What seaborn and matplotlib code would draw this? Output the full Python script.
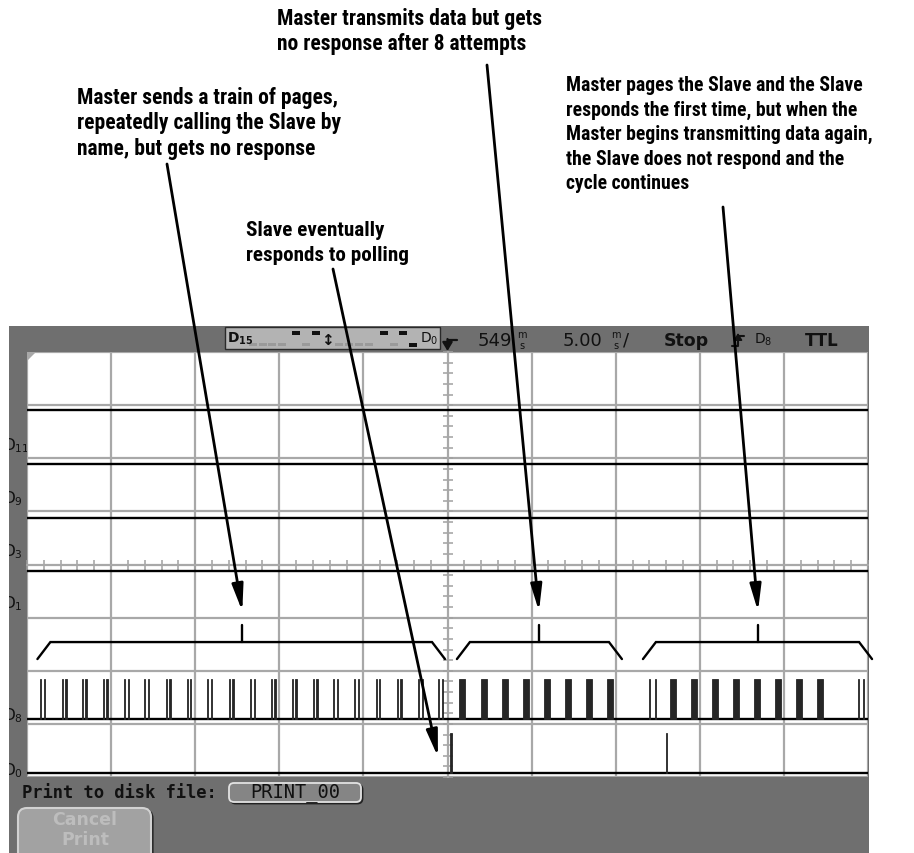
import matplotlib
matplotlib.use("Agg")
import numpy as np
import pandas as pd
import matplotlib.pyplot as plt
import seaborn as sns
from matplotlib import font_manager as fm
from matplotlib.patches import Rectangle, FancyBboxPatch, Polygon
from matplotlib.ticker import MultipleLocator

# --- data -----------------------------------------------------------------
# channel traces, level in screen divisions (screen is 8 div tall)
channel_names = ["D11", "D9", "D3", "D1", "D8", "D0"]
channel_levels = [6.9, 5.9, 4.88, 3.88, 1.1, 0.08]

# D8 activity, time in ms from trigger (5 ms/div)
d8_page_times = [-24.23, -24.01, -22.94, -22.72, -21.75, -21.53, -20.50, -20.28,
                 -19.23, -19.01, -18.03, -17.81, -16.75, -16.53, -15.51, -15.29,
                 -14.28, -14.06, -13.01, -12.79, -11.74, -11.52, -10.51, -10.29,
                 -9.26, -9.04, -8.01, -7.79, -6.79, -6.57, -5.55, -5.33,
                 -4.28, -4.06, -3.02, -2.80, -1.74, -1.52, -0.55, -0.33,
                 11.98, 12.34, 24.41, 24.70]
d8_data_times = [0.68, 1.99, 3.24, 4.49, 5.74, 6.99, 8.24, 9.48,
                 13.23, 14.48, 15.72, 16.97, 18.22, 19.47, 20.72, 21.97]
d8_page_width = 0.07
d8_data_width = 0.38
d8_high = 0.745

# D0 (slave) responses
d0_times = [0.15, 12.99]
d0_widths = [0.12, 0.06]
d0_high = 0.75

# brackets grouping the activity
group_start = [-24.38, 0.56, 11.62]
group_end = [-0.15, 10.37, 25.24]
group_mid = [-12.2, 5.44, 18.46]

# header channel states D15 .. D0
header_states = ["off", "off", "off", "off", "hi", "off", "hi", "trig",
                 "off", "off", "off", "off", "hi", "off", "hi", "lo"]

notes = [
    "Master sends a train of pages,\nrepeatedly calling the Slave by\nname, but gets no response",
    "Master transmits data but gets\nno response after 8 attempts",
    "Master pages the Slave and the Slave\nresponds the first time, but when the\n"
    "Master begins transmitting data again,\nthe Slave does not respond and the\ncycle continues",
    "Slave eventually\nresponds to polling",
]
note_pos = [(77, 87), (277, 8), (566, 76), (246, 221)]
note_scale = [1.0, 1.0, 0.92, 0.98]
note_spacing = [1.2, 1.2, 1.37, 1.39]
arrow_start = [(167, 165), (487, 66), (723, 208), (333, 270)]
arrow_tip = [(-12.2, 3.12), (5.44, 3.12), (18.46, 3.12), (-0.57, 0.38)]

# --- fonts ----------------------------------------------------------------
sns.set_style("white")
avail = {f.name for f in fm.fontManager.ttflist}
narrow = None
for n in ["Liberation Sans Narrow", "Roboto Condensed"]:
    if n in avail:
        narrow = n
        break
note_font = narrow if narrow else "DejaVu Sans"
note_size = 15.5 if narrow else 11.5
plt.rcParams["font.family"] = ["DejaVu Sans"]

W, H = 914, 854
fig = plt.figure(figsize=(W / 100, H / 100), dpi=100, facecolor="white")

# background layer (scope bezel), pixel coordinates
bg = fig.add_axes([0, 0, 1, 1], zorder=0)
bg.set_xlim(0, W)
bg.set_ylim(H, 0)
bg.axis("off")
frame = Rectangle((9, 327), 860, 527, fc="#6f6f6f", ec="none")
bg.add_patch(frame)

# scope screen
x0, x1, y0, y1 = 27, 868, 353, 778
ax = fig.add_axes([x0 / W, (H - y1) / H, (x1 - x0) / W, (y1 - y0) / H], zorder=1)
ax.set_facecolor("white")

trace_df = pd.DataFrame({
    "channel": np.repeat(channel_names, 2),
    "t": np.tile([-25.0, 25.0], len(channel_names)),
    "level": np.repeat(channel_levels, 2),
})
sns.lineplot(data=trace_df, x="t", y="level", units="channel", estimator=None,
             color="black", lw=1.7, ax=ax, legend=False, zorder=3)

d8_base = channel_levels[channel_names.index("D8")]
d0_base = channel_levels[channel_names.index("D0")]
n_page, n_data = len(d8_page_times), len(d8_data_times)
pulses = pd.DataFrame({
    "start": d8_page_times + d8_data_times + d0_times,
    "width": [d8_page_width] * n_page + [d8_data_width] * n_data + d0_widths,
    "base": [d8_base] * (n_page + n_data) + [d0_base] * len(d0_times),
    "height": [d8_high] * (n_page + n_data) + [d0_high] * len(d0_times),
})
ax.bar(pulses["start"], pulses["height"], width=pulses["width"], bottom=pulses["base"],
       align="edge", color="#262626", edgecolor="#262626", linewidth=0.6, zorder=3)

# brackets
for s, e, m in zip(group_start, group_end, group_mid):
    ax.plot([s, s + 0.77, e - 0.77, e], [2.22, 2.54, 2.54, 2.22], color="black",
            lw=1.7, clip_on=False, zorder=4, solid_joinstyle="miter")
    ax.plot([m, m], [2.54, 2.86], color="black", lw=1.7, zorder=4)

ax.set_xlim(-25, 25)
ax.set_ylim(0, 8)
ax.set_xlabel("")
ax.set_ylabel("")
ax.xaxis.set_major_locator(MultipleLocator(5))
ax.xaxis.set_minor_locator(MultipleLocator(1))
ax.yaxis.set_major_locator(MultipleLocator(1))
ax.yaxis.set_minor_locator(MultipleLocator(0.2))
ax.grid(True, which="major", color="#a8a8a8", lw=1.6)
ax.set_axisbelow(True)
for side in ["top", "right"]:
    ax.spines[side].set_visible(False)
ax.spines["left"].set_position(("data", 0))
ax.spines["bottom"].set_position(("data", 4))
for side in ["left", "bottom"]:
    ax.spines[side].set_color("#a8a8a8")
    ax.spines[side].set_linewidth(1.4)
ax.tick_params(which="both", direction="inout", length=7, width=1.1, color="#a0a0a0",
               left=True, bottom=True, labelleft=False, labelbottom=False)

# header bar
bg.add_patch(Rectangle((225, 328), 215, 22, fc="#b3b3b3", ec="#2a2a2a", lw=1.0))
bg.text(227, 339, r"$\mathregular{D_{15}}$", fontsize=10, fontweight="bold", va="center", color="#111")
bg.text(420, 339, r"$\mathregular{D_{0}}$", fontsize=10, va="center", color="#111")
slot_x = [249, 259, 268, 278, 292, 302, 312, 323, 335, 345, 355, 365, 380, 390, 399, 409]
for st, sx in zip(header_states, slot_x):
    if st == "off":
        bg.add_patch(Rectangle((sx, 344), 8, 3, fc="#9a9a9a", ec="none"))
    elif st == "hi":
        bg.add_patch(Rectangle((sx, 332), 8, 3.5, fc="#111", ec="none"))
    elif st == "lo":
        bg.add_patch(Rectangle((sx, 344), 8, 3.5, fc="#111", ec="none"))
    else:
        bg.text(sx + 4, 340, "\u2195", fontsize=11, fontweight="bold", ha="center", va="center", color="#111")

bg.plot([448, 457], [341, 341], color="#111", lw=1.6)
bg.annotate("", xy=(447.5, 352), xytext=(447.5, 340),
            arrowprops=dict(arrowstyle="-|>,head_length=0.5,head_width=0.3", color="#111", lw=1.6,
                            shrinkA=0, shrinkB=0))
bg.text(478, 341, "549", fontsize=13, va="center", color="#111")
bg.text(522, 335, "m", fontsize=7, ha="center", va="center", color="#111")
bg.text(522, 346, "s", fontsize=7, ha="center", va="center", color="#111")
bg.text(563, 341, "5.00", fontsize=13, va="center", color="#111")
bg.text(616, 335, "m", fontsize=7, ha="center", va="center", color="#111")
bg.text(616, 346, "s", fontsize=7, ha="center", va="center", color="#111")
bg.text(623, 341, "/", fontsize=13, va="center", color="#111")
bg.text(664, 341, "Stop", fontsize=12.5, fontweight="bold", va="center", color="#111")
bg.plot([732, 738, 738, 744], [347, 347, 337, 337], color="#111", lw=1.5)
bg.annotate("", xy=(738, 334), xytext=(738, 344),
            arrowprops=dict(arrowstyle="-|>,head_length=0.4,head_width=0.25", color="#111", lw=1.2,
                            shrinkA=0, shrinkB=0))
bg.text(754, 340, r"$\mathregular{D_{8}}$", fontsize=10, va="center", color="#111")
bg.text(805, 341, "TTL", fontsize=12, fontweight="bold", va="center", color="#111")

# channel labels on the left edge of the bezel
label_y = {"D11": 446, "D9": 499, "D3": 552, "D1": 604, "D8": 716, "D0": 771}
for name in channel_names:
    t = bg.text(3, label_y[name], r"$\mathregular{D_{%s}}$" % name[1:], fontsize=11,
                va="center", color="#111")
    t.set_clip_path(frame)
    t.set_clip_on(True)

# bottom soft-key area
bg.text(22, 793, "Print to disk file:", family="DejaVu Sans Mono", fontsize=12.3,
        fontweight="bold", va="center", color="#111")
bg.add_patch(FancyBboxPatch((230.5, 785.5), 132, 19, boxstyle="round,pad=0,rounding_size=5",
                            fc="none", ec="#222", lw=1.3))
bg.add_patch(FancyBboxPatch((229, 784), 132, 19, boxstyle="round,pad=0,rounding_size=5",
                            fc="#858585", ec="#e2e2e2", lw=1.3))
bg.text(295, 793, "PRINT_00", family="DejaVu Sans Mono", fontsize=13.5, ha="center",
        va="center", color="#111")
bg.add_patch(FancyBboxPatch((19.5, 810.5), 133, 60, boxstyle="round,pad=0,rounding_size=9",
                            fc="none", ec="#262626", lw=1.6))
bg.add_patch(FancyBboxPatch((18, 809), 133, 60, boxstyle="round,pad=0,rounding_size=9",
                            fc="#a2a2a2", ec="#d2d2d2", lw=1.5))
bg.text(85, 830, "Cancel\nPrint", fontsize=12.5, fontweight="bold", ha="center", va="center",
        color="#bdbdbd", linespacing=1.15)

# foreground annotations
fg = fig.add_axes([0, 0, 1, 1], zorder=2)
fg.set_xlim(0, W)
fg.set_ylim(H, 0)
fg.axis("off")
fg.patch.set_alpha(0)
fg.add_patch(Polygon([(27, 353), (36, 353), (27, 362)], fc="#a8a8a8", ec="none"))

for txt, (tx, ty), sc, ls in zip(notes, note_pos, note_scale, note_spacing):
    fg.text(tx, ty, txt, family=note_font, fontsize=note_size * sc, fontweight="bold",
            ha="left", va="top", linespacing=ls, color="black")
for (sx, sy), tip in zip(arrow_start, arrow_tip):
    fg.annotate("", xy=tip, xycoords=ax.transData, xytext=(sx, sy), textcoords="data",
                arrowprops=dict(arrowstyle="-|>,head_length=1.6,head_width=0.34",
                                mutation_scale=10, color="black", lw=2.0,
                                shrinkA=0, shrinkB=0))

fig.savefig("out.png", dpi=100, facecolor="white")
